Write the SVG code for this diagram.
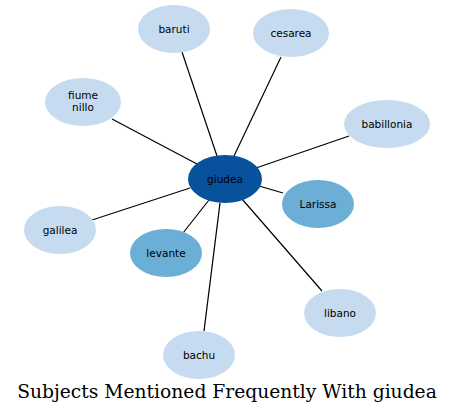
<svg xmlns="http://www.w3.org/2000/svg" width="455" height="415" viewBox="0 0 455 415">
<style>
.n text{font-family:"DejaVu Sans",sans-serif;font-size:10.5px;text-anchor:middle;fill:#000}
.light{fill:#c6dbef}
.mid{fill:#6baed6}
.dark{fill:#08519c}
#edges line{stroke:#000;stroke-width:1.2}
.title{font-family:"DejaVu Serif",serif;font-size:18.7px;text-anchor:middle;fill:#000}
</style>
<rect width="455" height="415" fill="#fff"/>
<g id="edges">
<line x1="217" y1="156" x2="182" y2="52"/>
<line x1="234" y1="156" x2="281" y2="57"/>
<line x1="197" y1="164" x2="112" y2="119"/>
<line x1="256" y1="168" x2="349" y2="136"/>
<line x1="259" y1="186" x2="283" y2="193"/>
<line x1="190" y1="188" x2="92" y2="220"/>
<line x1="209" y1="200" x2="183" y2="233"/>
<line x1="242" y1="199" x2="322" y2="291"/>
<line x1="220" y1="203" x2="204" y2="331"/>
</g>
<g id="giudea" class="n"><ellipse class="dark" cx="225" cy="179" rx="37" ry="24"/><text x="225" y="182.5">giudea</text></g>
<g id="baruti" class="n"><ellipse class="light" cx="174" cy="29" rx="36" ry="24"/><text x="174" y="32.5">baruti</text></g>
<g id="cesarea" class="n"><ellipse class="light" cx="291" cy="33" rx="38" ry="24"/><text x="291" y="36.5">cesarea</text></g>
<g id="fiume_nillo" class="n"><ellipse class="light" cx="83" cy="102" rx="38" ry="24"/><text x="83" y="99">fiume</text><text x="83" y="111">nillo</text></g>
<g id="babillonia" class="n"><ellipse class="light" cx="387" cy="124" rx="43" ry="24"/><text x="387" y="127.5">babillonia</text></g>
<g id="Larissa" class="n"><ellipse class="mid" cx="318" cy="204" rx="36" ry="24"/><text x="318" y="207.5">Larissa</text></g>
<g id="galilea" class="n"><ellipse class="light" cx="60" cy="230" rx="36" ry="24"/><text x="60" y="233.5">galilea</text></g>
<g id="levante" class="n"><ellipse class="mid" cx="166" cy="253" rx="36" ry="24"/><text x="166" y="256.5">levante</text></g>
<g id="libano" class="n"><ellipse class="light" cx="340" cy="313" rx="36" ry="24"/><text x="340" y="316.5">libano</text></g>
<g id="bachu" class="n"><ellipse class="light" cx="199" cy="355" rx="36" ry="24"/><text x="199" y="358.5">bachu</text></g>
<text class="title" x="227" y="398">Subjects Mentioned Frequently With giudea</text>
</svg>
